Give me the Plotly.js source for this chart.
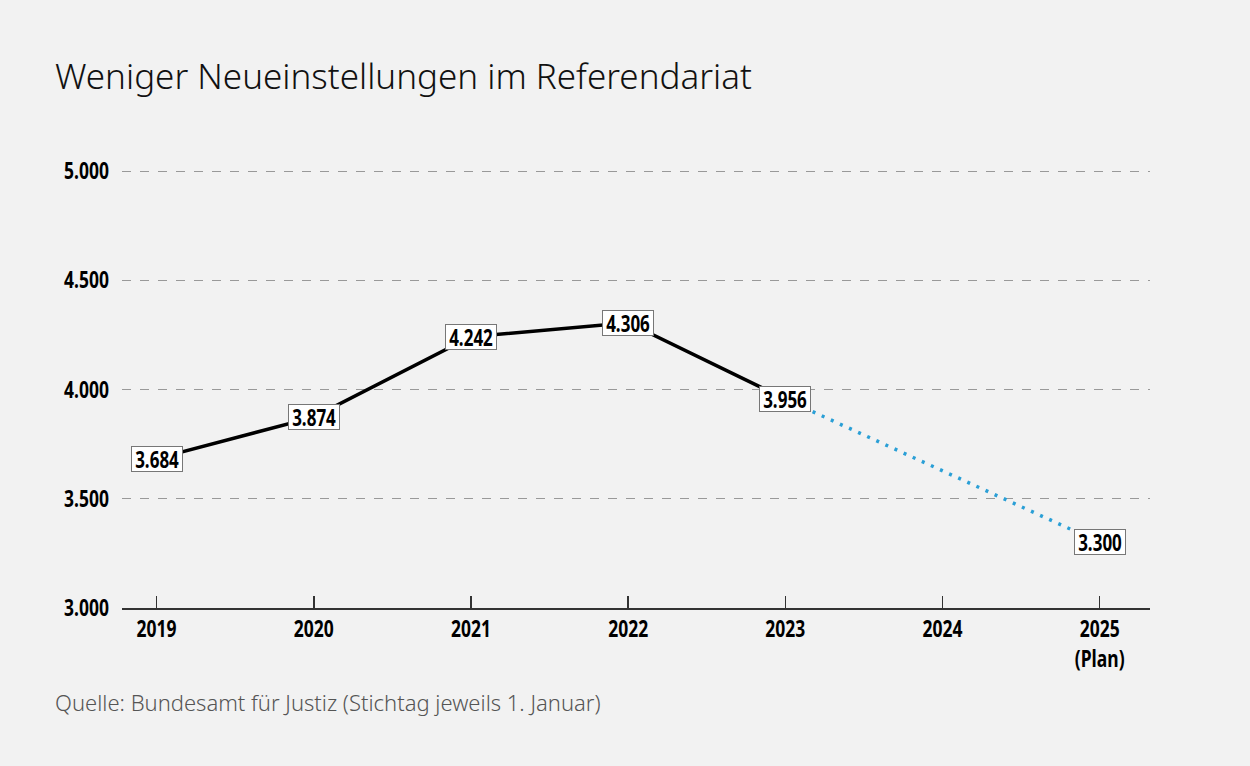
<!DOCTYPE html>
<html>
<head>
<meta charset="utf-8">
<script src="https://cdn.plot.ly/plotly-3.0.1.min.js"></script>
<style>
html,body{margin:0;padding:0;background:#f2f2f2;}
#chart{width:1250px;height:766px;}
</style>
</head>
<body>
<div id="chart"></div>
<script>
// Data
const yearsActual = [2019, 2020, 2021, 2022, 2023];
const valuesActual = [3684, 3874, 4242, 4306, 3956];
const yearsPlan = [2023, 2025];
const valuesPlan = [3956, 3300];
const labelYears = [2019, 2020, 2021, 2022, 2023, 2025];
const labelValues = [3684, 3874, 4242, 4306, 3956, 3300];
const labelTexts = ["3.684", "3.874", "4.242", "4.306", "3.956", "3.300"];
const xTickVals = [2019, 2020, 2021, 2022, 2023, 2024, 2025];
const xTickText = ["2019", "2020", "2021", "2022", "2023", "2024", "2025<br>(Plan)"];
const yTickVals = [3000, 3500, 4000, 4500, 5000];
const yTickText = ["3.000", "3.500", "4.000", "4.500", "5.000"];

const condFont = '"Noto Sans", "Open Sans", sans-serif';

const traces = [
  {
    x: yearsPlan, y: valuesPlan, mode: 'lines', type: 'scatter',
    line: {color: '#2a9fd6', width: 3.5, dash: '3px,7px'}, hoverinfo: 'skip'
  },
  {
    x: yearsActual, y: valuesActual, mode: 'lines', type: 'scatter',
    line: {color: '#000000', width: 3.5}, hoverinfo: 'skip'
  }
];

const annotations = labelYears.map((yr, i) => ({
  x: yr, y: labelValues[i], xref: 'x', yref: 'y',
  text: labelTexts[i], showarrow: false,
  font: {family: condFont, size: 23, color: '#000', weight: 'bold'},
  width: 50, height: 24, align: 'center', valign: 'middle',
  bgcolor: '#ffffff', bordercolor: '#777777', borderwidth: 1, borderpad: 0
}));

annotations.push({
  xref: 'paper', yref: 'paper', x: -0.067, y: 1.215, xanchor: 'left', yanchor: 'middle',
  text: 'Weniger Neueinstellungen im Referendariat', showarrow: false,
  font: {family: '"Noto Sans", sans-serif', size: 35, color: '#111', weight: 300}
});
annotations.push({
  xref: 'paper', yref: 'paper', x: -0.067, y: -0.215, xanchor: 'left', yanchor: 'middle',
  text: 'Quelle: Bundesamt für Justiz (Stichtag jeweils 1. Januar)', showarrow: false,
  font: {family: '"Noto Sans", sans-serif', size: 22, color: '#555', weight: 300}
});

const layout = {
  width: 1250, height: 766,
  paper_bgcolor: '#f2f2f2', plot_bgcolor: '#f2f2f2',
  margin: {l: 122, r: 100, t: 170, b: 158},
  showlegend: false,
  xaxis: {
    range: [2018.78, 2025.32], tickvals: xTickVals, ticktext: xTickText,
    showgrid: false, zeroline: false, showline: true, linecolor: '#333', linewidth: 1.5,
    ticks: 'inside', ticklen: 12, tickcolor: '#333', tickwidth: 1.5,
    tickfont: {family: condFont, size: 23, color: '#000', weight: 'bold'}
  },
  yaxis: {
    range: [3000, 5005], tickvals: yTickVals, ticktext: yTickText,
    showgrid: true, gridcolor: '#999', griddash: 'dash', gridwidth: 1,
    zeroline: false, showline: false, ticks: '', ticklabelstandoff: 12,
    tickfont: {family: condFont, size: 23, color: '#000', weight: 'bold'}
  },
  annotations: annotations
};

function condense(el, f) {
  try {
    const tspans = el.querySelectorAll('tspan');
    const targets = tspans.length ? Array.from(tspans) : [el];
    targets.forEach(t => {
      const len = t.getComputedTextLength();
      if (len > 0) {
        t.setAttribute('textLength', (len * f).toFixed(1));
        t.setAttribute('lengthAdjust', 'spacingAndGlyphs');
      }
    });
  } catch (e) {}
}

Plotly.newPlot('chart', traces, layout, {displayModeBar: false, staticPlot: true}).then(() => {
  document.querySelectorAll('#chart .xaxislayer-above text, #chart .yaxislayer-above text').forEach(t => condense(t, 0.76));
  document.querySelectorAll('#chart .annotation-text').forEach(t => {
    if (/^\d\.\d{3}$/.test(t.textContent)) condense(t, 0.74);
  });
});
</script>
</body>
</html>
